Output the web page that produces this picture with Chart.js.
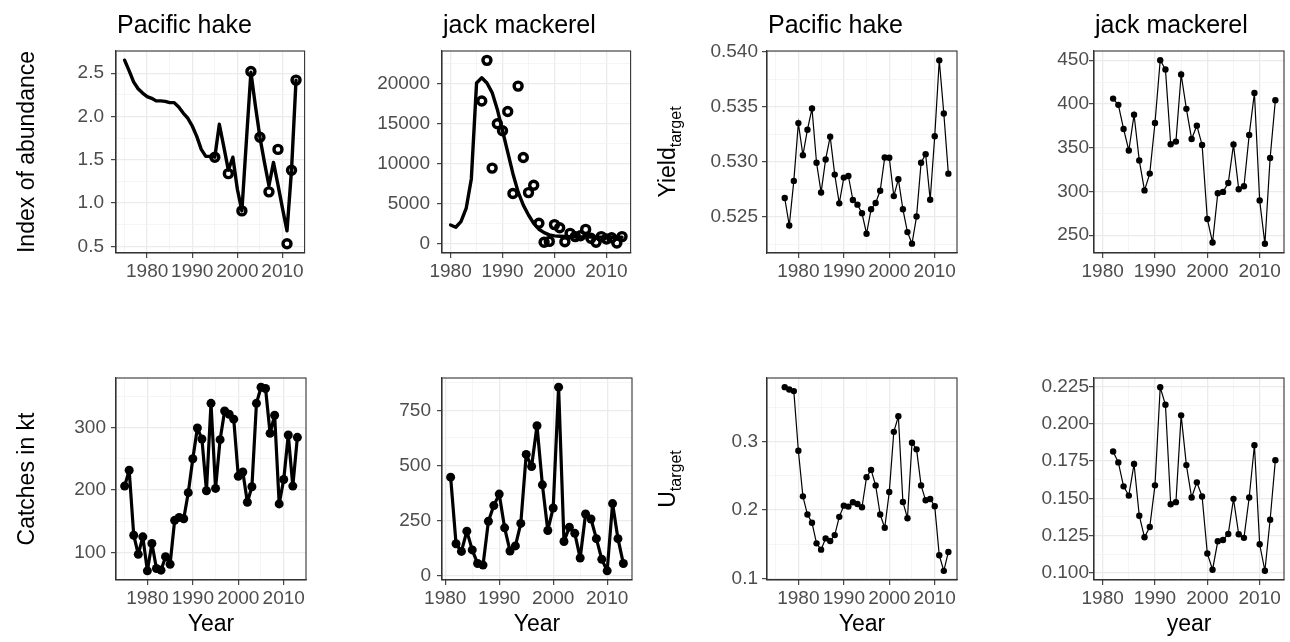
<!DOCTYPE html>
<html>
<head>
<meta charset="utf-8">
<script src="https://cdn.jsdelivr.net/npm/chart.js@4.4.1/dist/chart.umd.min.js"></script>
<style>
  html, body { margin: 0; padding: 0; background: #fff; }
  #wrap { position: relative; width: 1290px; height: 642px; overflow: hidden; background: #fff; }
  canvas { position: absolute; }
</style>
</head>
<body>
<div id="wrap"></div>
<script>
// years 1975..2013, the other series use slices of it
const years = [1975, 1976, 1977, 1978, 1979, 1980, 1981, 1982, 1983, 1984,
               1985, 1986, 1987, 1988, 1989, 1990, 1991, 1992, 1993, 1994,
               1995, 1996, 1997, 1998, 1999, 2000, 2001, 2002, 2003, 2004,
               2005, 2006, 2007, 2008, 2009, 2010, 2011, 2012, 2013];
const years1977 = years.slice(2);
const years1980 = years.slice(5);
const years1981 = years.slice(6);
const years1982 = years.slice(7);

// index of abundance
const hakeIndexFit = [2.65, 2.53, 2.40, 2.32, 2.27, 2.23, 2.21, 2.18, 2.18, 2.175,
                      2.16, 2.16, 2.11, 2.04, 1.98, 1.89, 1.77, 1.62, 1.54, 1.54,
                      1.53, 1.91, 1.65, 1.38, 1.53, 1.16, 0.91, 1.72, 2.51, 2.12,
                      1.76, 1.47, 1.20, 1.47, 1.21, 0.94, 0.68, 1.38, 2.42];
const hakeSurveyYears = [1995, 1998, 2001, 2003, 2005, 2007, 2009, 2011, 2012, 2013];
const hakeSurvey = [1.53, 1.34, 0.91, 2.52, 1.76, 1.13, 1.62, 0.53, 1.38, 2.42];

const jackIndexFit = [2350, 2070, 2770, 4420, 8140, 20100, 20750, 20100, 18900, 16800,
                      14130, 11450, 8760, 6490, 4830, 3600, 2560, 1820, 1400, 1120,
                      990, 950, 920, 900, 880, 870, 860, 850, 840, 830,
                      820, 820, 810, 810];
const jackSurveyYears = years.slice(11);
const jackSurvey = [17850, 22930, 9460, 15000, 14130, 16530, 6280, 19710, 10790, 6400,
                    7310, 2560, 200, 300, 2400, 2000, 250, 1300, 900, 1000,
                    1800, 700, 200, 900, 600, 750, 100, 900];

// catches in kt
const hakeCatch = [206.3, 231.6, 127.9, 97.4, 125.3, 71, 114.7, 74.7, 72.1, 93.7,
                   81.6, 151.6, 156.3, 154.2, 195.8, 250, 299, 281.6, 198.9, 338.4,
                   202.6, 280.5, 326.3, 321, 313.2, 222.1, 228.9, 180.5, 205.3, 338.4,
                   364.2, 362.1, 290.5, 319.5, 177.9, 216.8, 287.9, 206.3, 284.2];
const jackCatch = [447, 145, 110, 202, 117, 55, 48, 247, 318, 370,
                   217, 112, 135, 237, 550, 495, 680, 412, 205, 307,
                   855, 155, 220, 192, 80, 280, 257, 168, 74, 22,
                   327, 168, 55];

// yield target
const hakeYield = [0.52669, 0.52420, 0.52825, 0.53350, 0.53059, 0.53290, 0.53482, 0.52990, 0.52720, 0.53020,
                   0.53227, 0.52882, 0.52621, 0.52855, 0.52870, 0.52651, 0.52609, 0.52531, 0.52345, 0.52567,
                   0.52624, 0.52735, 0.53038, 0.53035, 0.52687, 0.52840, 0.52567, 0.52360, 0.52255, 0.52501,
                   0.52990, 0.53068, 0.52654, 0.53230, 0.53920, 0.53437, 0.52891];
const jackYield = [406.1, 399, 371.4, 346.8, 387.6, 335.5, 301.2, 320.4, 378.2, 450,
                   439.4, 354, 357, 433.7, 394.4, 360, 375.2, 353.2, 268.5, 241.7,
                   298, 299.5, 309.7, 353.6, 302.6, 306, 364.6, 412.6, 289.8, 240.2,
                   338.2, 404.2];

// U target
const hakeU = [0.3799, 0.3765, 0.3741, 0.2869, 0.2201, 0.1935, 0.1814, 0.1513, 0.1421, 0.1586,
               0.1547, 0.1634, 0.1901, 0.2065, 0.2051, 0.2114, 0.2090, 0.2041, 0.2482, 0.2588,
               0.2361, 0.1935, 0.1741, 0.2264, 0.3145, 0.3373, 0.2119, 0.1881, 0.2985, 0.2889,
               0.2361, 0.2143, 0.2162, 0.2056, 0.1339, 0.1111, 0.1387];
const jackU = [0.1814, 0.1741, 0.1580, 0.1518, 0.1730, 0.1383, 0.1238, 0.1307, 0.1587, 0.2246,
               0.2128, 0.1460, 0.1474, 0.2057, 0.1723, 0.1505, 0.1607, 0.1512, 0.1129, 0.1020,
               0.1211, 0.1220, 0.1260, 0.1496, 0.1258, 0.1234, 0.1505, 0.1856, 0.1191, 0.1013,
               0.1356, 0.1756];

// tick values (major get a label, minor only a light grid line)
const decadeTicks = [1980, 1990, 2000, 2010];
const hakeYearMinor = [1975, 1985, 1995, 2005];
const jackYearMinor = [1985, 1995, 2005];
const hakeIndexTicks = [0.5, 1.0, 1.5, 2.0, 2.5];
const hakeIndexMinor = [0.75, 1.25, 1.75, 2.25, 2.75];
const jackIndexTicks = [0, 5000, 10000, 15000, 20000];
const jackIndexMinor = [2500, 7500, 12500, 17500, 22500];
const hakeYieldTicks = [0.525, 0.530, 0.535, 0.540];
const hakeYieldMinor = [0.5225, 0.5275, 0.5325, 0.5375];
const jackYieldTicks = [250, 300, 350, 400, 450];
const jackYieldMinor = [275, 325, 375, 425];
const hakeCatchTicks = [100, 200, 300];
const hakeCatchMinor = [150, 250, 350];
const jackCatchTicks = [0, 250, 500, 750];
const jackCatchMinor = [125, 375, 625, 875];
const hakeUTicks = [0.1, 0.2, 0.3];
const hakeUMinor = [0.15, 0.25, 0.35];
const jackUTicks = [0.100, 0.125, 0.150, 0.175, 0.200, 0.225];
const jackUMinor = [0.1125, 0.1375, 0.1625, 0.1875, 0.2125];


const FONT = '"Liberation Sans", Arial, Helvetica, sans-serif';
const PAD_L = 120, PAD_T = 55, PAD_R = 6, PAD_B = 65;
const PW = 190, PH = 202;

function pts(xs, ys) {
    return xs.map((x, i) => ({ x: x, y: ys[i] }));
}

const fitLine = d => ({
    data: d, borderColor: "#000", borderWidth: 3.4, pointRadius: 0,
    borderJoinStyle: "round", borderCapStyle: "round", tension: 0
});
const obsCircles = d => ({
    data: d, showLine: false, pointRadius: 4, pointBorderWidth: 3.4,
    pointBorderColor: "#000", pointBackgroundColor: "rgba(0,0,0,0)"
});
const thickSeries = d => ({
    data: d, borderColor: "#000", borderWidth: 3.2, borderJoinStyle: "round",
    pointRadius: 4.5, pointBackgroundColor: "#000", pointBorderWidth: 0, tension: 0
});
const thinSeries = d => ({
    data: d, borderColor: "#000", borderWidth: 1.2,
    pointRadius: 3.2, pointBackgroundColor: "#000", pointBorderWidth: 0, tension: 0
});

// panel box, titles and axis titles
const panelText = {
    id: "panelText",
    afterDatasetsDraw(chart, args, opts) {
        const ctx = chart.ctx;
        const a = chart.chartArea;
        ctx.save();
        ctx.strokeStyle = "#333333";
        ctx.lineWidth = 1.1;
        ctx.strokeRect(a.left, a.top, a.right - a.left, a.bottom - a.top);

        ctx.fillStyle = "#000";
        ctx.textBaseline = "alphabetic";
        if (opts.title) {
            ctx.font = "25px " + FONT;
            ctx.textAlign = "left";
            ctx.fillText(opts.title, a.left + 1, a.top - 18);
        }
        if (opts.xTitle) {
            ctx.font = "23px " + FONT;
            ctx.textAlign = "center";
            ctx.fillText(opts.xTitle, (a.left + a.right) / 2, a.bottom + 51);
        }
        if (opts.yTitle) {
            ctx.translate(a.left - opts.yTitleOff, (a.top + a.bottom) / 2);
            ctx.rotate(-Math.PI / 2);
            ctx.textAlign = "left";
            ctx.font = "23px " + FONT;
            let wm = ctx.measureText(opts.yTitle).width;
            let ws = 0;
            if (opts.ySub) {
                ctx.font = "16px " + FONT;
                ws = ctx.measureText(opts.ySub).width;
            }
            let x0 = -(wm + ws) / 2;
            ctx.font = "23px " + FONT;
            ctx.fillText(opts.yTitle, x0, 0);
            if (opts.ySub) {
                ctx.font = "16px " + FONT;
                ctx.fillText(opts.ySub, x0 + wm, 6);
            }
        }
        ctx.restore();
    }
};

function axisOpts(range, major, minor, digits, horizontal, pad) {
    const isMajor = v => major.some(m => Math.abs(m - v) < 1e-9);
    return {
        type: "linear",
        min: range[0],
        max: range[1],
        afterBuildTicks: s => {
            s.ticks = major.concat(minor).sort((a, b) => a - b).map(v => ({ value: v }));
        },
        afterFit: s => {
            if (horizontal) s.height = PAD_B; else s.width = PAD_L;
        },
        ticks: {
            autoSkip: false,
            maxRotation: 0,
            minRotation: 0,
            padding: pad,
            color: "#4d4d4d",
            font: { family: FONT, size: 19 },
            callback: v => isMajor(v) ? v.toFixed(digits) : ""
        },
        grid: {
            color: c => isMajor(c.tick.value) ? "#ebebeb" : "#f3f3f3",
            lineWidth: c => isMajor(c.tick.value) ? 1.3 : 0.8,
            tickLength: 5,
            tickColor: c => isMajor(c.tick.value) ? "#333333" : "rgba(0,0,0,0)",
            tickWidth: 1.1
        },
        border: { display: true, color: "#333333", width: 1.1 }
    };
}

const hakeXRange = [1973.1, 2014.9];
const jackXRange = [1978.35, 2014.65];

const panels = [
    {
        left: 116, top: 51, xr: hakeXRange, xMinor: hakeYearMinor,
        yr: [0.424, 2.756], yMajor: hakeIndexTicks, yMinor: hakeIndexMinor, digits: 1, yPad: 7,
        text: { title: "Pacific hake", yTitle: "Index of abundance", yTitleOff: 82 },
        datasets: [obsCircles(pts(hakeSurveyYears, hakeSurvey)), fitLine(pts(years, hakeIndexFit))]
    },
    {
        left: 442, top: 51, xr: jackXRange, xMinor: jackYearMinor,
        yr: [-1150, 24100], yMajor: jackIndexTicks, yMinor: jackIndexMinor, digits: 0, yPad: 7,
        text: { title: "jack mackerel" },
        datasets: [obsCircles(pts(jackSurveyYears, jackSurvey)), fitLine(pts(years1980, jackIndexFit))]
    },
    {
        left: 767, top: 51, xr: hakeXRange, xMinor: hakeYearMinor,
        yr: [0.5217, 0.54005], yMajor: hakeYieldTicks, yMinor: hakeYieldMinor, digits: 3, yPad: 4,
        text: { title: "Pacific hake", yTitle: "Yield", ySub: "target", yTitleOff: 92 },
        datasets: [thinSeries(pts(years1977, hakeYield))]
    },
    {
        left: 1094, top: 51, xr: jackXRange, xMinor: jackYearMinor,
        yr: [229.7, 460.5], yMajor: jackYieldTicks, yMinor: jackYieldMinor, digits: 0, yPad: 0,
        text: { title: "jack mackerel" },
        datasets: [thinSeries(pts(years1982, jackYield))]
    },
    {
        left: 116, top: 378, xr: hakeXRange, xMinor: hakeYearMinor,
        yr: [56.4, 378.9], yMajor: hakeCatchTicks, yMinor: hakeCatchMinor, digits: 0, yPad: 5,
        text: { xTitle: "Year", yTitle: "Catches in kt", yTitleOff: 82 },
        datasets: [thickSeries(pts(years, hakeCatch))]
    },
    {
        left: 442, top: 378, xr: [1979.4, 2014.6], xMinor: jackYearMinor,
        yr: [-19.6, 896.6], yMajor: jackCatchTicks, yMinor: jackCatchMinor, digits: 0, yPad: 6,
        text: { xTitle: "Year" },
        datasets: [thickSeries(pts(years1981, jackCatch))]
    },
    {
        left: 767, top: 378, xr: hakeXRange, xMinor: hakeYearMinor,
        yr: [0.0977, 0.3933], yMajor: hakeUTicks, yMinor: hakeUMinor, digits: 1, yPad: 4,
        text: { xTitle: "Year", yTitle: "U", ySub: "target", yTitleOff: 92 },
        datasets: [thinSeries(pts(years1977, hakeU))]
    },
    {
        left: 1094, top: 378, xr: jackXRange, xMinor: jackYearMinor,
        yr: [0.0951, 0.2308], yMajor: jackUTicks, yMinor: jackUMinor, digits: 3, yPad: 0,
        text: { xTitle: "year" },
        datasets: [thinSeries(pts(years1982, jackU))]
    }
];

const wrap = document.getElementById("wrap");

panels.forEach(p => {
    const cv = document.createElement("canvas");
    cv.width = PW + PAD_L + PAD_R;
    cv.height = PH + PAD_T + PAD_B;
    cv.style.width = cv.width + "px";
    cv.style.height = cv.height + "px";
    cv.style.left = (p.left - PAD_L) + "px";
    cv.style.top = (p.top - PAD_T) + "px";
    wrap.appendChild(cv);

    new Chart(cv, {
        type: "line",
        data: { datasets: p.datasets },
        options: {
            responsive: false,
            animation: false,
            layout: { padding: { left: 0, top: PAD_T, right: PAD_R, bottom: 0 } },
            plugins: {
                legend: { display: false },
                tooltip: { enabled: false },
                panelText: p.text
            },
            scales: {
                x: axisOpts(p.xr, decadeTicks, p.xMinor, 0, true, 2),
                y: axisOpts(p.yr, p.yMajor, p.yMinor, p.digits, false, p.yPad)
            }
        },
        plugins: [panelText]
    });
});
</script>
</body>
</html>
